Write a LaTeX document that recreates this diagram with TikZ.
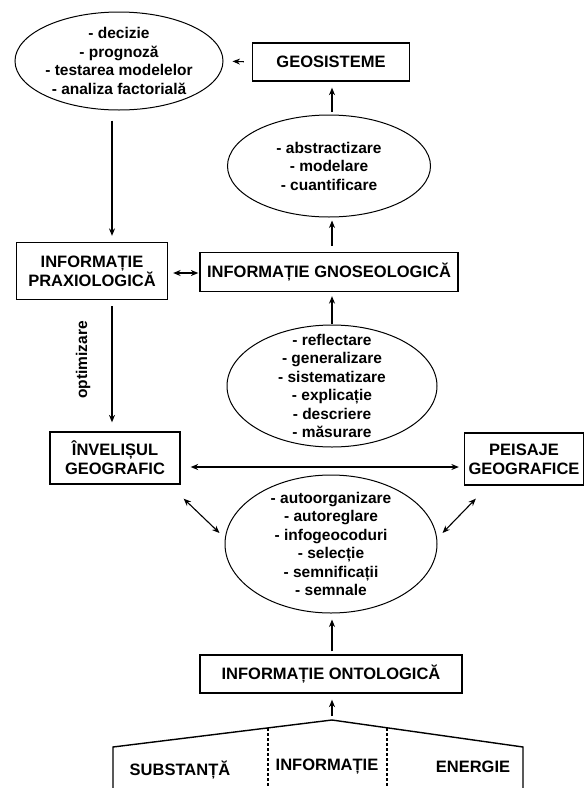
\documentclass[tikz,border=0pt]{standalone}
\usepackage{fontspec}
\setmainfont{Liberation Sans}
\usetikzlibrary{shapes.geometric,arrows.meta}
\begin{document}
\begin{tikzpicture}[x=1pt,y=-1pt,
  font=\bfseries\fontsize{15.5}{18.5}\selectfont,
  caps/.style={font=\bfseries\fontsize{16.5}{19}\selectfont},
  box/.style={draw, line width=1.3pt, rectangle, inner sep=0pt, align=center, caps},
  ell/.style={draw, line width=1pt, ellipse, inner sep=0pt},
  txt/.style={inner sep=0pt, align=center},
  arr/.style={-{Stealth[length=7.5pt,width=6pt]}, line width=1.1pt},
  darr/.style={{Stealth[length=7.5pt,width=6pt]}-{Stealth[length=7.5pt,width=6pt]}, line width=1.1pt}]
\useasboundingbox (0,0) rectangle (584,788);

% top-left ellipse
\node[ell, minimum width=208pt, minimum height=98pt] (e1) at (119,61) {};
\node[txt] (e1t) at (e1.center) {- decizie\\- prognoză\\- testarea modelelor\\- analiza factorială};

\node[box, minimum width=157pt, minimum height=38pt] (geo) at (331,62) {GEOSISTEME};

\node[ell, minimum width=203pt, minimum height=102pt] (e2) at (329,166) {};
\node[txt] (e2t) at (e2.center) {- abstractizare\\- modelare\\- cuantificare};

\node[box, minimum width=258pt, minimum height=39pt] (gno) at (329,272) {INFORMAȚIE GNOSEOLOGICĂ};
\node[box, minimum width=151pt, minimum height=57pt] (prax) at (92,271) {INFORMAȚIE\\PRAXIOLOGICĂ};

\node[ell, minimum width=210pt, minimum height=122pt] (e3) at (332,386) {};
\node[txt] (e3t) at (e3.center) {- reflectare\\- generalizare\\- sistematizare\\- explicație\\- descriere\\- măsurare};

\node[box, minimum width=130pt, minimum height=52pt] (inv) at (115,458) {ÎNVELIȘUL\\GEOGRAFIC};
\node[box, minimum width=119pt, minimum height=52pt] (pei) at (524,459) {PEISAJE\\GEOGRAFICE};

\node[ell, minimum width=212pt, minimum height=138pt] (e4) at (331,544) {};
\node[txt] (e4t) at (e4.center) {- autoorganizare\\- autoreglare\\- infogeocoduri\\- selecție\\- semnificații\\- semnale};

\node[box, minimum width=262pt, minimum height=38pt] (ont) at (331,674) {INFORMAȚIE ONTOLOGICĂ};

\node[txt, rotate=90] (opt) at (83,360) {optimizare};

% bottom shape
\coordinate (apex) at (332,720);
\coordinate (mid) at (332,0);
\coordinate (cx) at (112,0);
\draw[line width=1.4pt] (113,788) -- (113,747) -- (apex) -- (523,747) -- (523,788);
\draw[dash pattern=on 3pt off 2pt, line width=1.1pt] (268,728) -- (268,788);
\draw[dash pattern=on 3pt off 2pt, line width=1.1pt] (387,728) -- (387,788);
\node[txt, caps] (sub) at (180,770) {SUBSTANȚĂ};
\node[txt, caps] (inf) at (327,767) {INFORMAȚIE};
\node[txt, caps] (ene) at (473,767) {ENERGIE};

% connectors
\draw[arr, shorten <=8pt, shorten >=9pt] (geo.west) -- (e1.east);
\draw[arr, shorten <=3pt, shorten >=6pt] (e2.north -| mid) -- (geo.south -| mid);
\draw[arr, shorten <=6pt, shorten >=3pt] (gno.north -| mid) -- (e2.south -| mid);
\draw[arr, shorten <=1pt, shorten >=4pt] (e3.north -| mid) -- (gno.south -| mid);
\draw[arr, shorten <=3pt, shorten >=6pt] (ont.north -| mid) -- (e4.south -| mid);
\draw[arr, shorten <=4pt, shorten >=6pt] (apex) -- (ont.south -| mid);
\draw[arr, shorten <=10pt, shorten >=6pt] (e1.south -| cx) -- (prax.north -| cx);
\draw[arr, shorten <=6pt, shorten >=9pt] (prax.south -| cx) -- (inv.north -| cx);
\draw[darr, shorten <=5pt, shorten >=1pt] ([yshift=-2pt]prax.east) -- ([yshift=-1pt]gno.west);
\draw[darr, shorten <=10pt, shorten >=5pt] ([yshift=-9pt]inv.east) -- ([yshift=-8pt]pei.west);
\draw[darr] ([xshift=3pt,yshift=-14pt]inv.south east) -- ([xshift=-5pt,yshift=11pt]e4.west);
\draw[darr] ([xshift=12pt,yshift=-13pt]pei.south west) -- ([xshift=5pt,yshift=11pt]e4.east);
\end{tikzpicture}
\end{document}
